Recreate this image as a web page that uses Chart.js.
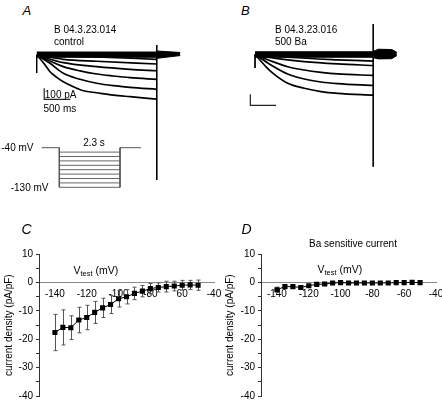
<!DOCTYPE html>
<html><head><meta charset="utf-8">
<script src="https://cdn.jsdelivr.net/npm/chart.js@4.4.1/dist/chart.umd.min.js"></script>
<style>
html,body{margin:0;padding:0;width:442px;height:402px;overflow:hidden;background:#fff;}
#fig{position:relative;width:442px;height:402px;overflow:hidden;font-family:"Liberation Sans",Arial,Helvetica,sans-serif;color:#000;}
canvas{position:absolute;}
.t{position:absolute;white-space:nowrap;line-height:1;transform:translateY(-50%);font-size:10px;}
.t sub{font-size:7.5px;vertical-align:-2px;line-height:0;}
</style></head><body><div id="fig"></div>
<script>
// ===================== DATA =====================
// I-V relations (panels C, D)
const vTest = [-140,-135,-130,-125,-120,-115,-110,-105,-100,-95,-90,-85,-80,-75,-70,-65,-60,-55,-50];
const controlDensity = [-17.6,-15.8,-15.9,-13.2,-12.3,-10.5,-8.9,-7.7,-5.7,-5.0,-3.8,-3.0,-2.1,-1.7,-1.4,-1.2,-0.9,-0.8,-0.9];
const controlSem = [6.4,6.2,4.2,4.5,4.3,3.9,3.4,3.2,2.9,2.5,2.2,2.0,1.8,1.6,1.9,1.7,1.7,1.6,1.8];
const baDensity = [-2.5,-1.4,-1.4,-1.7,-1.1,-0.6,-0.5,-0.1,0,-0.1,-0.1,-0.1,-0.1,-0.1,-0.1,0,0,0.1,0];
const baSem = [0.9,0.5,0.5,0.6,0.4,0.3,0.3,0.2,0.2,0.2,0.2,0.2,0.2,0.2,0.2,0.2,0.2,0.2,0.2];
const xTickValues = [-140,-120,-100,-80,-60,-40];
const xTickLabelsC = ['-140','-120','-100','-80','60','-40'];
const xTickLabelsD = ['-140','-120','-100','-80','-60','-40'];

// Current traces, panel A (control): time in ms, current in pA
const ctrlT1 = [0,127,255,383,510,702,893,1149,1468,1788,2300];
const ctrlI1 = [0,-70,-152,-203,-243,-288,-325,-343,-364,-379,-402];
const ctrlT2 = [0,255,510,830,1149,1467,1787,2300];
const ctrlI2 = [0,-75,-166,-221,-257,-279,-294,-312];
const ctrlT3 = [0,510,830,1149,1467,1787,2300];
const ctrlI3 = [0,-106,-145,-173,-191,-206,-221];
const ctrlT4 = [0,510,1149,1787,2300];
const ctrlI4 = [0,-70,-106,-130,-143];
const ctrlT5 = [0,510,1149,2300];
const ctrlI5 = [0,-39,-57,-82];
const ctrlT6 = [0,1149,2300];
const ctrlI6 = [0,-18,-39];
const ctrlBandT = [0,2290,2310,2750];
const ctrlBandTop = [27,27,36,23];
const ctrlBandBot = [-21,-21,-30,-5];
const ctrlStartArtifact = [0,-164];
const ctrlEndArtifact = [91,-1136];

// Current traces, panel B (500 Ba)
const baT1 = [0,195,311,636,959,1284,1609,2300];
const baI1 = [0,-102,-156,-262,-307,-337,-353,-370];
const baT2 = [0,311,636,959,1284,1609,2300];
const baI2 = [0,-95,-177,-223,-250,-265,-282];
const baT3 = [0,311,636,959,1284,1609,2300];
const baI3 = [0,-59,-111,-141,-162,-177,-190];
const baT4 = [0,311,959,1609,2300];
const baI4 = [0,-29,-65,-86,-100];
const baT5 = [0,636,1609,2300];
const baI5 = [0,-25,-48,-60];
const baBandT = [0,2290,2310,2400,2660,2760];
const baBandTop = [25,25,30,48,45,20];
const baBandBot = [-25,-25,-30,-40,-38,-10];
const baStartArtifact = [0,-123];
const baEndArtifact = [277,-1020];

// scale bars (500 ms, 100 pA) and their corner (ms, pA)
const scaleBarMs = 500, scaleBarPa = 100;
const scaleBarCornerA = [144,-403];
const scaleBarCornerB = [-91,-462];

// voltage protocol (mV, ms)
const holdingMv = -40;
const testMv = [-50,-60,-70,-80,-90,-100,-110,-120,-130];
const pulseMs = 2300, preMs = 667, postMs = 795;

// ===================== RENDER =====================
Chart.defaults.font.family = '"Liberation Sans", Arial, Helvetica, sans-serif';
Chart.defaults.color = '#000';
const fig = document.getElementById('fig');

function makeCanvas(left, top, w, h) {
  const c = document.createElement('canvas');
  c.width = w; c.height = h;
  Object.assign(c.style, {left:left+'px', top:top+'px', width:w+'px', height:h+'px'});
  fig.appendChild(c);
  return c;
}
function text(str, x, y, o = {}) {
  const d = document.createElement('div');
  d.className = 't';
  d.innerHTML = str;
  d.style.top = y + 'px';
  if (o.size) d.style.fontSize = o.size + 'px';
  if (o.italic) d.style.fontStyle = 'italic';
  if (o.align === 'right') d.style.right = (442 - x) + 'px';
  else if (o.align === 'center') { d.style.left = x + 'px'; d.style.transform = 'translate(-50%,-50%)'; }
  else d.style.left = x + 'px';
  fig.appendChild(d);
}
function line(xs, ys, o = {}) {
  return Object.assign({
    data: xs.map((x, i) => ({x, y: ys[i]})),
    showLine: true, borderColor: '#000', borderWidth: 1, pointRadius: 0, fill: false, tension: 0
  }, o);
}
function rawChart(g, datasets) {
  const c = makeCanvas(g.left, g.top, g.w, g.h);
  const xmin = g.x0val + (g.left - g.x0px) / g.pxPerX;
  const xmax = xmin + g.w / g.pxPerX;
  const ymax = g.y0val + (g.y0px - g.top) / g.pxPerY;
  const ymin = ymax - g.h / g.pxPerY;
  return new Chart(c, {
    type: 'scatter', data: {datasets},
    options: {
      responsive: false, animation: false, devicePixelRatio: 1, events: [],
      layout: {padding: 0},
      plugins: {legend: {display: false}, tooltip: {enabled: false}},
      scales: {x: {type: 'linear', display: false, min: xmin, max: xmax},
               y: {type: 'linear', display: false, min: ymin, max: ymax}}
    }
  });
}
function traceSets(pairs, bandT, bandTop, bandBot, startArt, endArt, corner) {
  const sets = [];
  sets.push(line(bandT, bandTop, {fill: '+1', backgroundColor: '#000', borderWidth: 1}));
  sets.push(line(bandT, bandBot, {borderWidth: 1}));
  pairs.forEach(([t, i]) => sets.push(line(t, i, {borderWidth: 1.7, cubicInterpolationMode: 'monotone'})));
  sets.push(line([0, 0], startArt, {borderWidth: 1}));
  sets.push(line([pulseMs, pulseMs], endArt, {borderWidth: 1}));
  sets.push(line([corner[0], corner[0], corner[0] + scaleBarMs],
                 [corner[1] + scaleBarPa, corner[1], corner[1]], {borderWidth: 1.2, borderColor: '#222'}));
  return sets;
}

// Panel A traces
rawChart({left: 16, top: 18, w: 175, h: 175, x0val: 0, x0px: 36.7, pxPerX: 0.0522, y0val: 0, y0px: 55, pxPerY: 0.11},
  traceSets([[ctrlT1, ctrlI1], [ctrlT2, ctrlI2], [ctrlT3, ctrlI3], [ctrlT4, ctrlI4], [ctrlT5, ctrlI5], [ctrlT6, ctrlI6]],
    ctrlBandT, ctrlBandTop, ctrlBandBot, ctrlStartArtifact, ctrlEndArtifact, scaleBarCornerA));
// Panel B traces
rawChart({left: 234, top: 18, w: 175, h: 175, x0val: 0, x0px: 255, pxPerX: 0.0514, y0val: 0, y0px: 54.5, pxPerY: 0.11},
  traceSets([[baT1, baI1], [baT2, baI2], [baT3, baI3], [baT4, baI4], [baT5, baI5]],
    baBandT, baBandTop, baBandBot, baStartArtifact, baEndArtifact, scaleBarCornerB));

// Voltage protocol
(function () {
  const gray = '#555';
  const sets = [];
  sets.push(line([-preMs, 0], [holdingMv, holdingMv], {borderColor: gray}));
  sets.push(line([pulseMs, pulseMs + postMs], [holdingMv, holdingMv], {borderColor: gray}));
  const vMin = Math.min(...testMv);
  sets.push(line([0, 0], [holdingMv, vMin], {borderColor: gray}));
  sets.push(line([pulseMs, pulseMs], [holdingMv, vMin], {borderColor: gray}));
  testMv.forEach(v => sets.push(line([0, pulseMs], [v, v], {borderColor: '#666'})));
  rawChart({left: 30, top: 135, w: 120, h: 60, x0val: 0, x0px: 59.3, pxPerX: 0.0264, y0val: holdingMv, y0px: 147.7, pxPerY: 0.44}, sets);
})();

// Error bar plugin
const errorBars = {
  id: 'errorBars',
  beforeDatasetsDraw(chart) {
    const {ctx, scales: {x, y}} = chart;
    chart.data.datasets.forEach(ds => {
      if (!ds.errors) return;
      ctx.save();
      ctx.strokeStyle = '#555';
      ctx.lineWidth = 1;
      ds.data.forEach((p, j) => {
        const e = ds.errors[j];
        const px = Math.round(x.getPixelForValue(p.x)) + 0.5;
        const yt = y.getPixelForValue(p.y + e), yb = y.getPixelForValue(p.y - e);
        ctx.beginPath();
        ctx.moveTo(px, yt); ctx.lineTo(px, yb);
        ctx.moveTo(px - 2, yt); ctx.lineTo(px + 2, yt);
        ctx.moveTo(px - 2, yb); ctx.lineTo(px + 2, yb);
        ctx.stroke();
      });
      ctx.restore();
    });
  }
};

function ivChart(left, axisX, dens, sem, tickLabels) {
  const top = 240, w = 235, h = 170;
  const areaTop = 254.3, areaBottom = 396, areaRight = axisX + 175;
  const c = makeCanvas(left, top, w, h);
  return new Chart(c, {
    type: 'scatter',
    data: {datasets: [{
      data: vTest.map((v, i) => ({x: v, y: dens[i]})),
      errors: sem,
      showLine: true, borderColor: '#000', borderWidth: 1,
      pointStyle: 'rect', pointRadius: 3.6, pointBackgroundColor: '#000', pointBorderWidth: 0
    }]},
    plugins: [errorBars],
    options: {
      responsive: false, animation: false, devicePixelRatio: 1, events: [],
      layout: {padding: {left: 0, top: areaTop - top, bottom: top + h - areaBottom, right: left + w - areaRight}},
      plugins: {legend: {display: false}, tooltip: {enabled: false}},
      scales: {
        x: {
          type: 'linear', min: -150, max: -40, position: {y: 0},
          grid: {display: false, drawTicks: false},
          border: {display: true, color: '#888', width: 1},
          afterBuildTicks: s => { s.ticks = xTickValues.map(v => ({value: v})); },
          ticks: {padding: 6, font: {size: 10}, color: '#000', autoSkip: false, maxRotation: 0,
                  callback: (v) => tickLabels[xTickValues.indexOf(v)] ?? ''}
        },
        y: {
          type: 'linear', min: -40, max: 10,
          grid: {display: true, drawOnChartArea: false, drawTicks: true, tickLength: 3, color: '#333'},
          border: {display: true, color: '#333', width: 1},
          ticks: {stepSize: 5, padding: 3, font: {size: 10}, color: '#000', autoSkip: false,
                  callback: v => (v % 10 === 0 ? String(v) : '')},
          title: {display: true, text: 'current density (pA/pF)', font: {size: 10}, color: '#000', padding: {top: 3, bottom: 0}},
          afterFit: s => { s.width = axisX - left; }
        }
      }
    }
  });
}
ivChart(0, 39, controlDensity, controlSem, xTickLabelsC);
ivChart(221, 261, baDensity, baSem, xTickLabelsD);

// Text annotations
text('A', 22.5, 9.5, {size: 13, italic: true});
text('B', 241, 9.5, {size: 13, italic: true});
text('C', 21.5, 228.5, {size: 14, italic: true});
text('D', 241.5, 228.7, {size: 14, italic: true});
text('B 04.3.23.014', 54, 30.2);
text('control', 54, 42.3);
text('B 04.3.23.016', 275, 30.2);
text('500 Ba', 275, 42.3);
text('100 pA', 44.8, 94.5);
text('500 ms', 43.5, 108.8);
text('-40 mV', 33.5, 147.5, {align: 'right'});
text('-130 mV', 48.5, 187.8, {align: 'right'});
text('2.3 s', 94, 142.8, {align: 'center'});
text('Ba sensitive current', 353, 244.2, {align: 'center'});
text('V<sub>test</sub> (mV)', 73.5, 270.3, {size: 10.5});
text('V<sub>test</sub> (mV)', 317.5, 268.8, {size: 10.5});
</script>
</body></html>
